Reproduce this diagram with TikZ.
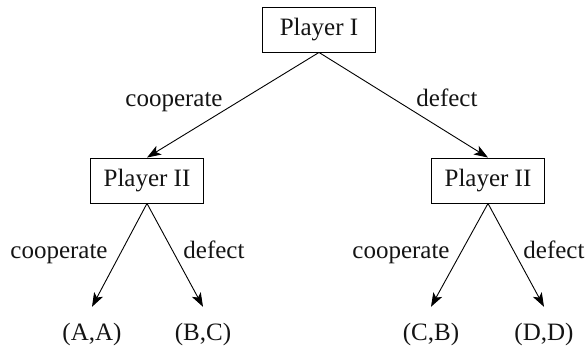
\documentclass[tikz,border=0pt]{standalone}
\usepackage{fontspec}
\setmainfont{Liberation Serif}
\usetikzlibrary{arrows.meta}
\begin{document}
\begin{tikzpicture}[x=1pt,y=-1pt,
  every node/.style={font=\fontsize{25}{29}\selectfont, text=black!92},
  player/.style={draw, line width=0.9pt, minimum width=113pt, minimum height=45pt, inner sep=0pt},
  leaf/.style={anchor=base, inner xsep=0pt, inner ysep=0pt, text height=33pt, text depth=5pt},
  lbl/.style={anchor=base, inner sep=0pt},
  edge/.style={draw, line width=0.9pt, -{Stealth[length=14pt,width=10pt,inset=3.5pt]}}]
\useasboundingbox (0,0) rectangle (587,348);
\node[player] (P1) at (319,29.5) {Player I};
\node[player] (P2L) at (147,180.5) {Player II};
\node[player] (P2R) at (488,180.5) {Player II};
\node[leaf] (AA) at (92,340) {(A,A)};
\node[leaf] (BC) at (203,340) {(B,C)};
\node[leaf] (CB) at (431,340) {(C,B)};
\node[leaf] (DD) at (544,340) {(D,D)};
\node[lbl] (l1) at (174,106) {cooperate};
\node[lbl] (l2) at (447,106) {defect};
\node[lbl] (l3) at (59,258) {cooperate};
\node[lbl] (l4) at (214,258) {defect};
\node[lbl] (l5) at (401,258) {cooperate};
\node[lbl] (l6) at (554,258) {defect};
\path[edge] (P1.south) -- (P2L.north);
\path[edge] (P1.south) -- (P2R.north);
\path[edge] (P2L.south) -- (AA.north);
\path[edge] (P2L.south) -- (BC.north);
\path[edge] (P2R.south) -- (CB.north);
\path[edge] (P2R.south) -- (DD.north);
\end{tikzpicture}
\end{document}
